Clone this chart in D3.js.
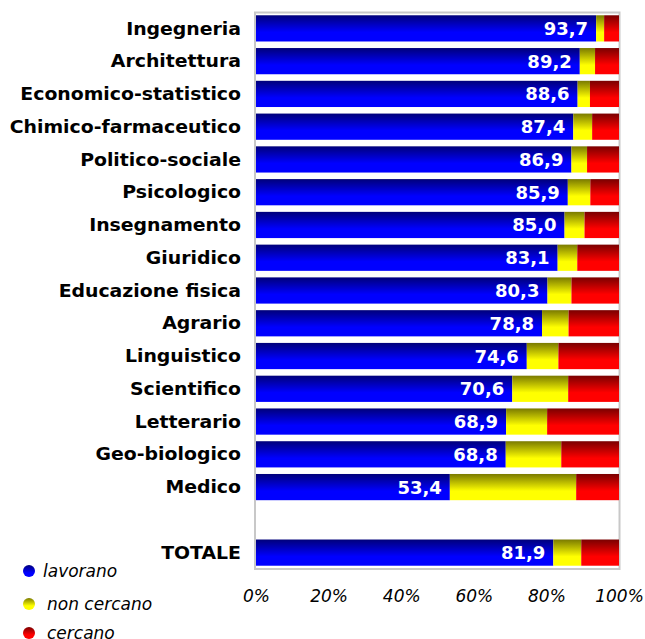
<!DOCTYPE html>
<html>
<head>
<meta charset="utf-8">
<script src="https://cdn.jsdelivr.net/npm/d3@7"></script>
<style>
  html, body { margin: 0; padding: 0; background: #fff; }
  svg { display: block; }
</style>
</head>
<body>
<svg id="chart" width="645" height="639"></svg>
<script>
// ---- data ----
const categories = ["Ingegneria", "Architettura", "Economico-statistico", "Chimico-farmaceutico",
  "Politico-sociale", "Psicologico", "Insegnamento", "Giuridico", "Educazione fisica", "Agrario",
  "Linguistico", "Scientifico", "Letterario", "Geo-biologico", "Medico", "", "TOTALE"];
const lavorano   = [93.7, 89.2, 88.6, 87.4, 86.9, 85.9, 85.0, 83.1, 80.3, 78.8, 74.6, 70.6, 68.9, 68.8, 53.4, null, 81.9];
const nonCercano = [2.2, 4.2, 3.4, 5.2, 4.3, 6.2, 5.5, 5.4, 6.6, 7.3, 8.7, 15.4, 11.3, 15.3, 34.8, null, 7.7];
const cercano    = [4.1, 6.6, 8.0, 7.4, 8.8, 7.9, 9.5, 11.5, 13.1, 13.9, 16.7, 14.0, 19.8, 15.9, 11.8, null, 10.4];
const seriesNames = ["lavorano", "non cercano", "cercano"];
const xTicks = [0, 20, 40, 60, 80, 100];

// ---- setup ----
const svg = d3.select("#chart");
const mLeft = 256, mRight = 619, mTop = 12, mBottom = 569;

const x = d3.scaleLinear().domain([0, 100]).range([mLeft, mRight]);
const y = d3.scaleBand().domain(d3.range(categories.length)).range([mTop, mBottom])
  .paddingInner(0.2).paddingOuter(0.1);

const seriesColors = [
  ["#00007a", "#0000ff"],
  ["#7a7a00", "#ffff00"],
  ["#7a0000", "#ff0000"]
];
const defs = svg.append("defs");
seriesColors.forEach((c, i) => {
  const g = defs.append("linearGradient").attr("id", "grad" + i)
    .attr("x1", 0).attr("y1", 0).attr("x2", 0).attr("y2", 1);
  g.append("stop").attr("offset", "0%").attr("stop-color", c[0]);
  g.append("stop").attr("offset", "65%").attr("stop-color", c[1]);
  g.append("stop").attr("offset", "100%").attr("stop-color", c[1]);
});

// frame
svg.append("rect")
  .attr("x", mLeft - 1).attr("y", mTop + 0.5)
  .attr("width", mRight - mLeft + 1.5).attr("height", mBottom - mTop - 0.5)
  .attr("fill", "#fff").attr("stroke", "#c8c8c8").attr("stroke-width", 2);

// stacked data
const rows = categories.map((c, i) => ({ i, cat: c, vals: [lavorano[i], nonCercano[i], cercano[i]] }))
  .filter(r => r.vals[0] != null);

const segs = [];
rows.forEach(r => {
  let acc = 0;
  r.vals.forEach((v, k) => {
    segs.push({ i: r.i, k, x0: acc, x1: acc + v });
    acc += v;
  });
});

svg.append("g").selectAll("rect").data(segs).join("rect")
  .attr("x", d => x(d.x0))
  .attr("y", d => y(d.i))
  .attr("width", d => Math.max(0, x(Math.min(d.x1, 100)) - x(d.x0)))
  .attr("height", y.bandwidth())
  .attr("fill", d => `url(#grad${d.k})`);

// value labels
const fmt = v => d3.format(".1f")(v).replace(".", ",");
svg.append("g").selectAll("text").data(rows).join("text")
  .attr("x", d => x(d.vals[0]) - 8)
  .attr("y", d => y(d.i) + y.bandwidth() / 2)
  .attr("dy", "0.36em")
  .attr("text-anchor", "end")
  .attr("font-family", "DejaVu Sans, Verdana, sans-serif")
  .attr("font-weight", "bold")
  .attr("font-size", 18)
  .attr("fill", "#fff")
  .text(d => fmt(d.vals[0]));

// category labels (horizontally widened to match the wide bold face of the original)
svg.append("g").selectAll("text").data(rows).join("text")
  .attr("transform", d => `translate(241,${y(d.i) + y.bandwidth() / 2}) scale(1.11,1)`)
  .attr("dy", "0.36em")
  .attr("text-anchor", "end")
  .attr("font-family", "DejaVu Sans, Verdana, sans-serif")
  .attr("font-weight", "bold")
  .attr("font-size", 17)
  .attr("fill", "#000")
  .text(d => d.cat);

// x axis
const axis = svg.append("g").attr("transform", `translate(0,${mBottom})`)
  .call(d3.axisBottom(x).tickValues(xTicks).tickFormat(d => d + "%").tickSize(0));
axis.select(".domain").remove();
axis.selectAll("text")
  .attr("y", 33).attr("dy", null)
  .attr("font-family", "DejaVu Sans, Verdana, sans-serif")
  .attr("font-style", "italic")
  .attr("font-size", 17)
  .attr("fill", "#000");

// legend
const legY = [571, 604, 633];
const legTextX = [43, 47, 47];
const leg = svg.append("g");
seriesNames.forEach((name, k) => {
  leg.append("circle").attr("cx", 29).attr("cy", legY[k]).attr("r", 6)
    .attr("fill", `url(#grad${k})`);
  leg.append("text").attr("x", legTextX[k]).attr("y", legY[k]).attr("dy", "0.36em")
    .attr("font-family", "DejaVu Sans, Verdana, sans-serif")
    .attr("font-style", "italic")
    .attr("font-size", 17)
    .attr("fill", "#000")
    .text(name);
});
</script>
</body>
</html>
